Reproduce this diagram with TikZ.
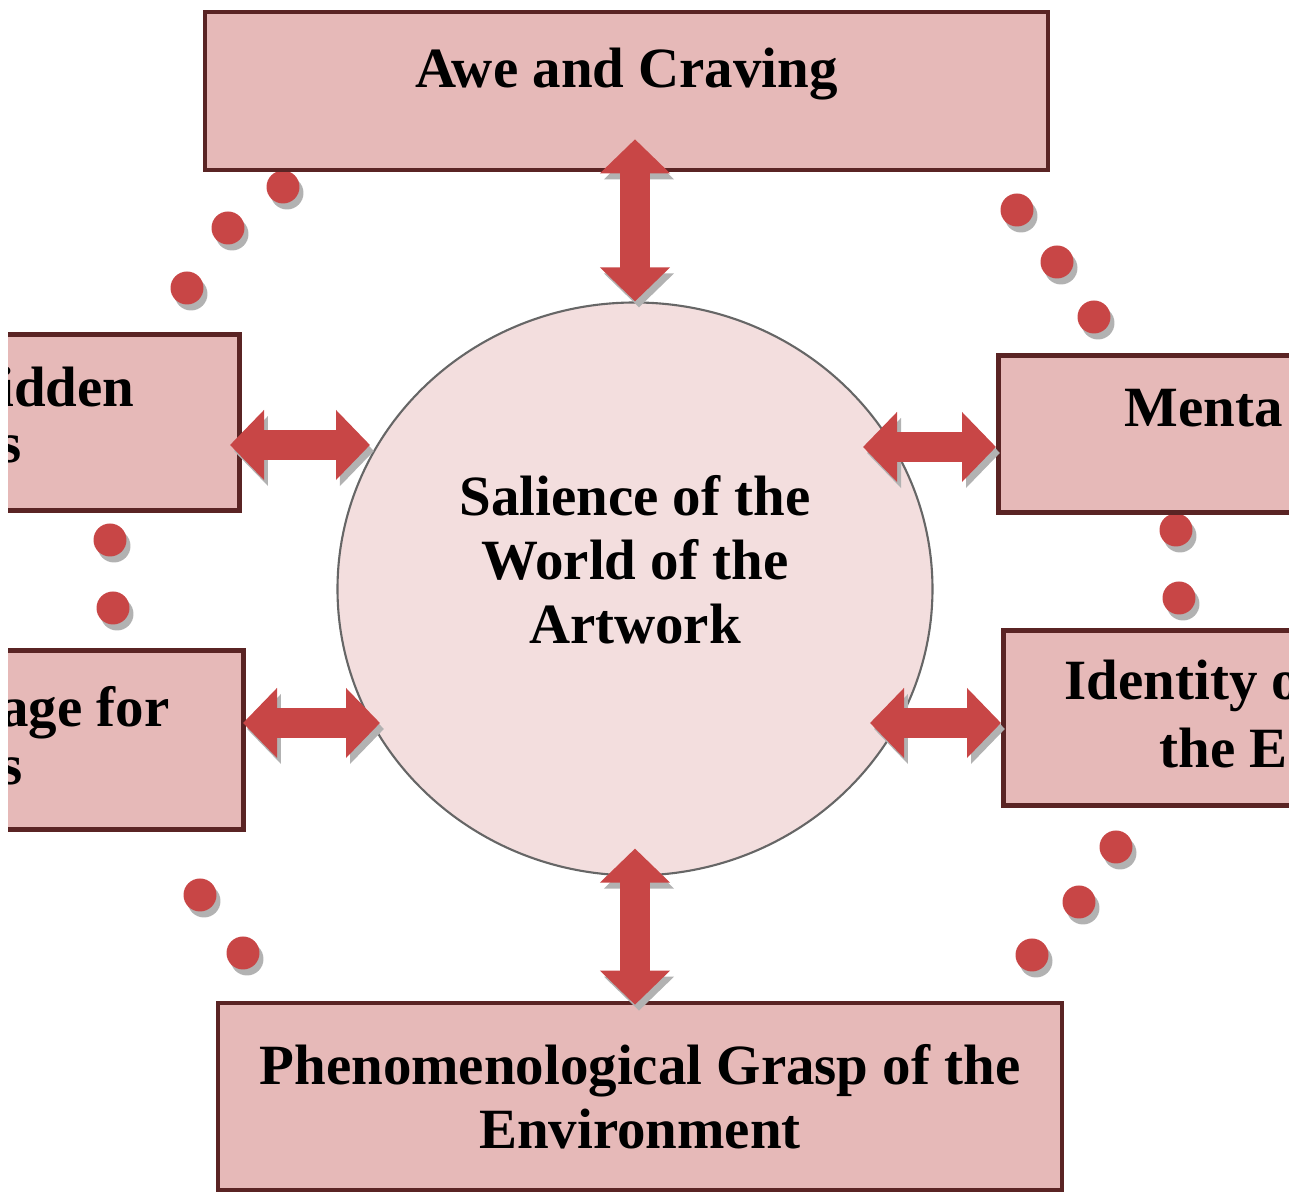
\documentclass[tikz,border=0pt]{standalone}
\usepackage{fontspec}
\setmainfont{Liberation Serif}
\usetikzlibrary{arrows.meta,shapes.geometric,shadows,positioning}

\definecolor{boxpink}{HTML}{E6B9B8}
\definecolor{boxedge}{HTML}{5A2424}
\definecolor{corepink}{HTML}{F3DEDE}
\definecolor{linkred}{HTML}{C84646}

\tikzset{
  box/.style={draw=boxedge, line width=1.3pt, fill=boxpink, inner sep=0pt},
  boxtext/.style={font=\fontsize{16.2}{18.2}\selectfont\bfseries, inner sep=0pt},
  core/.style={ellipse, draw=black!60, line width=0.6pt, fill=corepink,
    minimum width=5.95cm, minimum height=5.73cm, inner sep=0pt},
  link/.style={draw=linkred, line width=0.3cm,
    {Triangle[width=0.68cm,length=0.34cm]}-{Triangle[width=0.68cm,length=0.34cm]},
    preaction={draw=black!30, transform canvas={shift={(0.04,-0.06)}}}},
  dot/.style={fill=linkred,
    drop shadow={shadow xshift=0.04cm, shadow yshift=-0.06cm, fill=black!30, opacity=1}}
}

\begin{document}
\begin{tikzpicture}
    \useasboundingbox (0,0) rectangle (12.89,-11.93);
    \clip (0.08,0) rectangle (12.89,-11.93);

    % Dots round the circle
    \foreach \x/\y in {2.83/1.87, 2.28/2.28, 1.87/2.88, 1.10/5.40, 1.13/6.08,
                       2.00/8.95, 2.43/9.53, 10.17/2.10, 10.57/2.62, 10.94/3.17,
                       11.76/5.30, 11.79/5.98, 11.16/8.47, 10.79/9.02, 10.32/9.55}
        \fill[dot] (\x,-\y) circle (0.165);

    % Centre
    \node[core] (core) at (6.35,-5.89) {};
    \node[boxtext, align=center] (coretext) at ([yshift=0.295cm]core.center)
        {Salience of the\\World of the\\Artwork};

    % Top and bottom boxes
    \node[box, boxtext, minimum width=8.43cm, text height=0.76cm, text depth=0.82cm,
        anchor=base] (awe) at (6.265,-0.88) {Awe and Craving};
    \node[box, boxtext, align=center, minimum width=8.44cm, minimum height=1.87cm]
        (grasp) at (6.40,-10.965) {Phenomenological Grasp of the\\Environment};

    % Left boxes
    \node[box, minimum width=3cm, minimum height=1.76cm, anchor=north east]
        (hidden) at (2.42,-3.32) {};
    \node[boxtext, anchor=base east] (hiddenA) at (1.35,-4.07) {idden};
    \node[boxtext, anchor=base east] (hiddenB) at (0.22,-4.63) {s};
    \node[box, minimum width=3cm, minimum height=1.79cm, anchor=north east]
        (longing) at (2.46,-6.48) {};
    \node[boxtext, anchor=base east] (longingA) at (1.70,-7.27) {age for};
    \node[boxtext, anchor=base east] (longingB) at (0.23,-7.85) {s};

    % Right boxes
    \node[box, minimum width=3.5cm, minimum height=1.57cm, anchor=north west]
        (mental) at (9.96,-3.53) {};
    \node[boxtext, anchor=base west] (mentalA) at (11.24,-4.27) {Menta};
    \node[box, minimum width=3.5cm, minimum height=1.75cm, anchor=north west]
        (identity) at (10.01,-6.28) {};
    \node[boxtext, anchor=base west] (identityA) at (10.64,-7.00) {Identity o};
    \node[boxtext, anchor=base west] (identityB) at (11.59,-7.68) {the E};

    % Ends on the circle
    \coordinate (hl) at (3.70,-4.45);
    \coordinate (ll) at (3.80,-7.23);
    \coordinate (hr) at (8.63,-4.47);
    \coordinate (lr) at (8.70,-7.23);

    % Double arrows
    \draw[link, shorten <=-0.33cm] (core.north |- awe.south) -- (core.north);
    \draw[link, shorten <=-0.28cm, shorten >=-0.04cm] (core.south) -- (core.south |- grasp.north);
    \draw[link, shorten <=-0.12cm] (hidden.east |- hl) -- (hl);
    \draw[link, shorten <=-0.03cm] (longing.east |- ll) -- (ll);
    \draw[link] (hr) -- (mental.west |- hr);
    \draw[link] (lr) -- (identity.west |- lr);
\end{tikzpicture}
\end{document}
